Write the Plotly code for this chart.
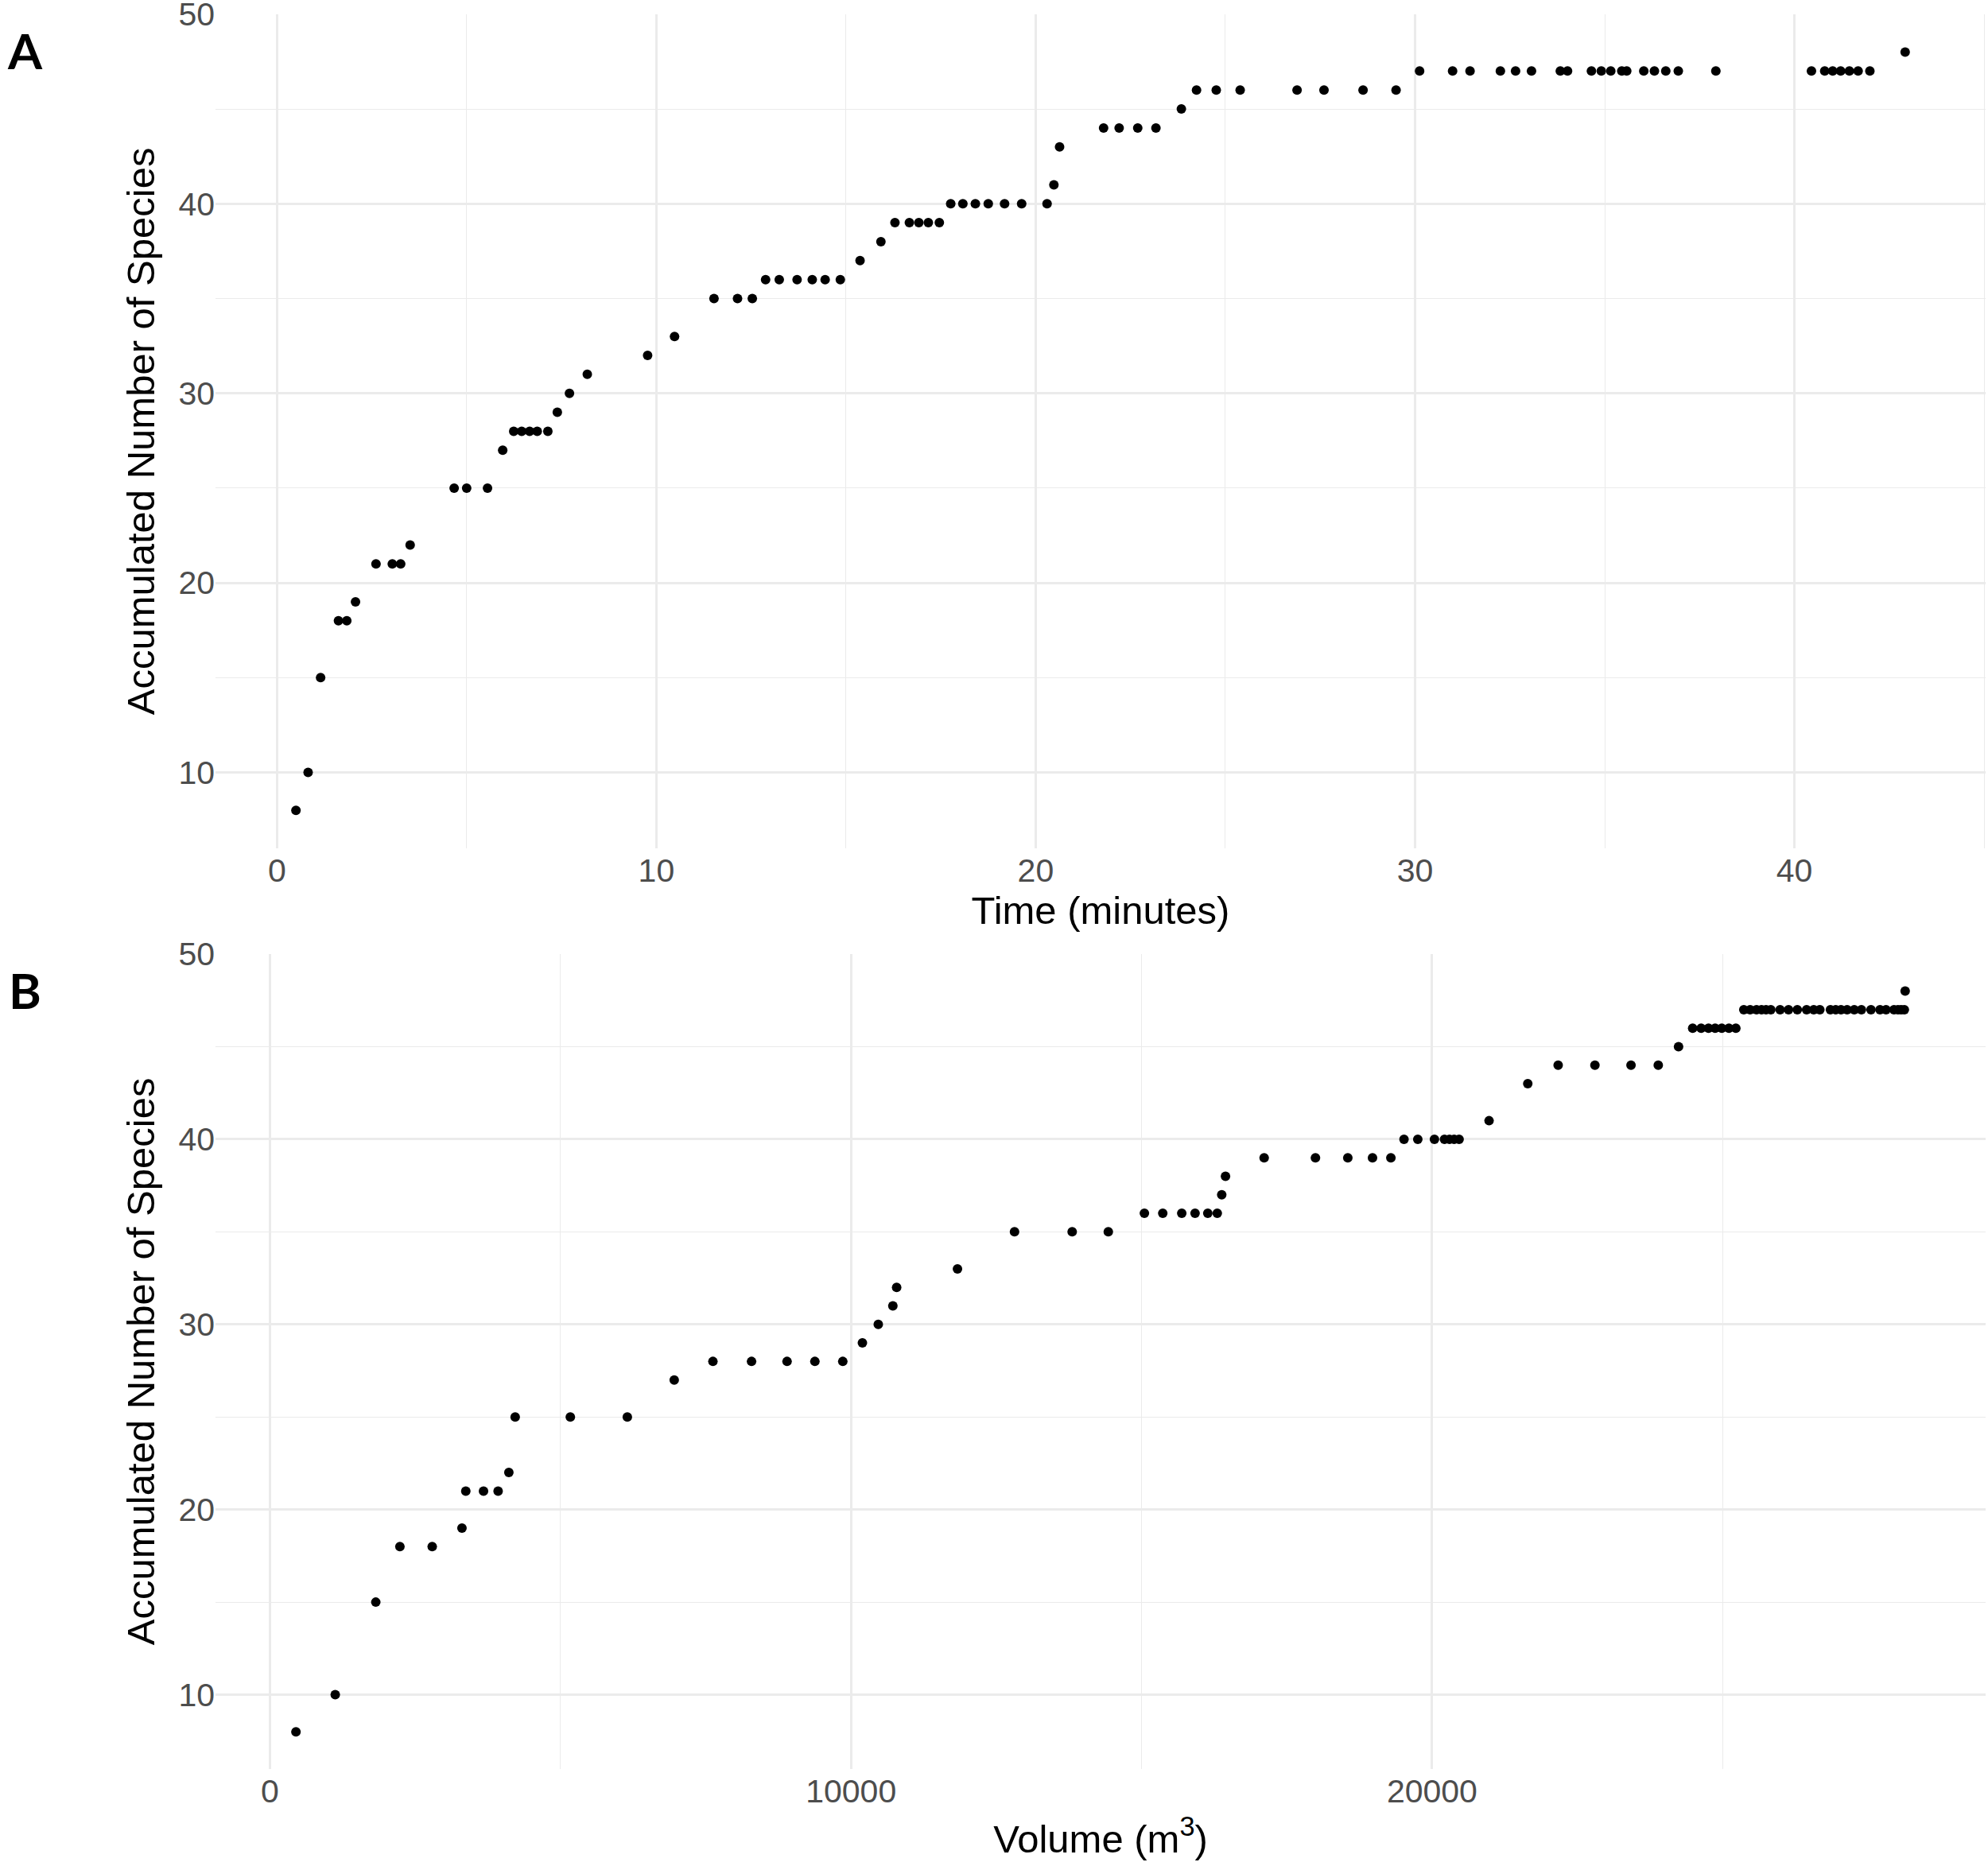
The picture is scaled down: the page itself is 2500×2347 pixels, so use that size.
import plotly.graph_objects as go
from plotly.subplots import make_subplots

# accumulated species, same sequence in both panels
species = [8, 10, 15, 18, 18, 19, 21, 21, 21, 22, 25, 25, 25, 27,
           28, 28, 28, 28, 28, 29, 30, 31, 32, 33, 35, 35, 35,
           36, 36, 36, 36, 36, 36, 37, 38, 39, 39, 39, 39, 39,
           40, 40, 40, 40, 40, 40, 40, 41, 43, 44, 44, 44, 44, 45,
           46, 46, 46, 46, 46, 46, 46] + [47] * 25 + [48]

# panel A: time (minutes)
time_min = [0.50, 0.82, 1.15, 1.62, 1.84, 2.07, 2.61, 3.04, 3.26, 3.51,
            4.67, 5.00, 5.55, 5.95, 6.24, 6.45, 6.66, 6.86, 7.14, 7.39,
            7.71, 8.18, 9.77, 10.48, 11.52, 12.14, 12.53, 12.88, 13.24,
            13.71, 14.11, 14.45, 14.85, 15.37, 15.92, 16.29, 16.67, 16.92,
            17.17, 17.46, 17.76, 18.08, 18.41, 18.75, 19.18, 19.63, 20.30,
            20.48, 20.63, 21.79, 22.20, 22.69, 23.17, 23.84, 24.24, 24.76,
            25.39, 26.89, 27.60, 28.63, 29.50,
            30.12, 30.99, 31.45, 32.25, 32.65, 33.07, 33.83, 34.02, 34.65,
            34.91, 35.16, 35.45, 35.58, 36.03, 36.31, 36.61, 36.94, 37.93,
            40.45, 40.80, 41.01, 41.22, 41.45, 41.68, 41.99,
            42.92]

# panel B: volume (m3)
volume_m3 = [447, 1123, 1821, 2236, 2792, 3304, 3370, 3675, 3926, 4111,
             4220, 5169, 6150, 6957, 7623, 8288, 8899, 9378, 9858, 10196,
             10469, 10720, 10785, 11832, 12814, 13806, 14428, 15049, 15365,
             15692, 15921, 16140, 16303, 16380, 16445, 17110, 17993, 18550,
             18975, 19291, 19517, 19754, 20041, 20214, 20300, 20380, 20465,
             20981, 21647, 22170, 22803, 23424, 23893, 24242, 24485, 24631,
             24758, 24872, 24986, 25109, 25228,
             25365, 25474, 25584, 25670, 25748, 25830, 25990, 26135, 26286,
             26446, 26569, 26674, 26856, 26947, 27038, 27143, 27266, 27389,
             27554, 27709, 27813, 27950, 28019, 28073, 28128,
             28142]


def expand(vals, f=0.05):
    # ggplot style 5% expansion
    lo, hi = min(vals), max(vals)
    d = (hi - lo) * f
    return [lo - d, hi + d]


W, H = 2500, 2347
FONT = "Liberation Sans"
GRID = "#EBEBEB"

fig = make_subplots(rows=2, cols=1)

fig.add_trace(go.Scatter(x=time_min, y=species, mode="markers",
                         marker=dict(color="black", size=12)), row=1, col=1)
fig.add_trace(go.Scatter(x=volume_m3, y=species, mode="markers",
                         marker=dict(color="black", size=12)), row=2, col=1)

axis_common = dict(
    showline=False, zeroline=False, ticks="", automargin=False,
    showgrid=True, gridcolor=GRID, gridwidth=2.5,
    tickfont=dict(family=FONT, size=41, color="#4D4D4D"),
    ticklabelstandoff=0, ticklabeloverflow="allow",
)

fig.update_xaxes(**axis_common)
fig.update_yaxes(**axis_common)

fig.update_layout(
    width=W, height=H,
    showlegend=False,
    plot_bgcolor="white", paper_bgcolor="white",
    margin=dict(l=0, r=0, t=0, b=0),
    font=dict(family=FONT, color="black"),
    xaxis=dict(domain=[0.1084, 0.9988], range=expand(time_min), dtick=10,
               minor=dict(dtick=5, showgrid=True, gridcolor=GRID, gridwidth=1.3),
               title=dict(text="Time (minutes)", font=dict(size=49), standoff=4)),
    yaxis=dict(domain=[0.5454, 0.9924], range=expand(species), dtick=10,
               minor=dict(dtick=5, showgrid=True, gridcolor=GRID, gridwidth=1.3),
               title=dict(text="Accumulated Number of Species", font=dict(size=49), standoff=14)),
    xaxis2=dict(domain=[0.1084, 0.9988], range=expand(volume_m3), dtick=10000, tick0=0,
                tickformat="d",
                minor=dict(dtick=5000, showgrid=True, gridcolor=GRID, gridwidth=1.3),
                title=dict(text="Volume (m<sup>3</sup>)", font=dict(size=49), standoff=20)),
    yaxis2=dict(domain=[0.0521, 0.4887], range=expand(species), dtick=10,
                minor=dict(dtick=5, showgrid=True, gridcolor=GRID, gridwidth=1.3),
                title=dict(text="Accumulated Number of Species", font=dict(size=49), standoff=14)),
)

# panel letters
for lab, yy in [("A", 0.9732), ("B", 0.4695)]:
    fig.add_annotation(text=f"<b>{lab}</b>", x=0.0124, y=yy, xref="paper", yref="paper",
                       showarrow=False, xanchor="center", yanchor="middle",
                       font=dict(family="Lato", size=62, color="black"))

# page body has a default margin that shifts the figure; drop it
fig.write_html("out.html", config={"displayModeBar": False},
               post_script="document.body.style.margin='0';")
